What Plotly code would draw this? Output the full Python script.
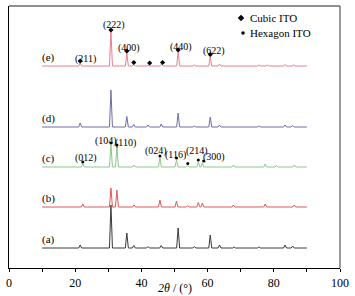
import plotly.graph_objects as go

# ---- data (intensity in arbitrary units, offsets per sample) ----
x_start, x_end = 10, 90

# sample (e) - cubic ITO
e_pos = [21.5, 30.8, 35.6, 37.7, 42.0, 46.0, 51.1, 56.0, 60.8, 63.6, 75.5, 78.0, 83.4, 86.0]
e_int = [3, 34, 13, 1.5, 1, 1.5, 14, 1, 9.5, 2, 1, 1, 1.5, 1]
# sample (d)
d_pos = [21.5, 30.8, 35.6, 37.7, 42.0, 46.0, 51.1, 56.0, 60.8, 63.6, 75.5, 83.4, 85.7]
d_int = [4, 37, 10.5, 2.5, 2, 3, 14, 1, 10, 2, 1, 2, 1.5]
# sample (c) - hexagonal ITO
c_pos = [22.3, 30.8, 32.6, 37.8, 45.6, 50.6, 54.0, 57.2, 58.4, 67.8, 77.4, 80.8, 86.2]
c_int = [3, 22, 20, 2, 9, 7, 1.5, 5, 4, 2, 3, 1.5, 2]
# sample (b)
b_pos = [22.3, 30.8, 32.6, 37.8, 45.6, 50.6, 54.0, 57.2, 58.4, 67.8, 77.4, 86.2]
b_int = [3, 19, 17, 2, 7, 6, 1.5, 4.5, 4, 2, 3, 2]
# sample (a)
a_pos = [21.5, 30.8, 35.6, 37.7, 42.0, 46.0, 51.1, 56.0, 60.8, 63.6, 68.0, 75.5, 83.4, 85.7]
a_int = [3, 43, 15, 2.5, 1.5, 2.5, 20, 1.5, 13, 3, 1, 1, 3, 2]

sample_names = ["(a)", "(b)", "(c)", "(d)", "(e)"]
offsets = [20, 61, 101, 141, 202]
colors = ["#3a3a3a", "#e05a5a", "#8cc88c", "#6e6ea8", "#e5808f"]

cubic_labels = ["(211)", "(222)", "(400)", "(440)", "(622)"]
cubic_label_x = [23.0, 31.7, 36.2, 52.0, 62.0]
cubic_label_y = [209, 243, 220, 221, 217]
cubic_marker_x = [21.5, 30.8, 35.6, 37.7, 42.5, 46.4, 51.1, 60.8]

hex_labels = ["(012)", "(104)", "(110)", "(024)", "(116)", "(214)", "(300)"]
hex_label_x = [23.3, 29.2, 35.2, 44.4, 50.2, 56.7, 61.8]
hex_label_y = [110, 127, 125.5, 117, 113, 117, 111]
hex_marker_x = [22.3, 30.8, 32.6, 45.6, 50.6, 54.0, 57.2, 58.8]

half_w = 0.45


def build_curve(pos, inten, base):
    xs = [x_start]
    ys = [base]
    for p, h in sorted(zip(pos, inten)):
        xs += [p - half_w, p, p + half_w]
        ys += [base, base + h, base]
    xs.append(x_end)
    ys.append(base)
    return xs, ys


def top_at(pos, inten, base, x):
    best = min(range(len(pos)), key=lambda i: abs(pos[i] - x))
    if abs(pos[best] - x) < 0.8:
        return base + inten[best]
    return base


fig = go.Figure()
all_pos = [a_pos, b_pos, c_pos, d_pos, e_pos]
all_int = [a_int, b_int, c_int, d_int, e_int]
for name, pos, inten, base, col in zip(sample_names, all_pos, all_int, offsets, colors):
    xs, ys = build_curve(pos, inten, base)
    fig.add_trace(go.Scatter(x=xs, y=ys, mode="lines", line=dict(color=col, width=1),
                             showlegend=False, hoverinfo="skip"))

# markers on (e) for cubic and (c) for hexagonal
cm_y = [top_at(e_pos, e_int, offsets[4], x) + 2 for x in cubic_marker_x]
fig.add_trace(go.Scatter(x=cubic_marker_x, y=cm_y, mode="markers",
                         marker=dict(symbol="diamond", size=4, color="black"),
                         showlegend=False, hoverinfo="skip"))
hm_y = [top_at(c_pos, c_int, offsets[2], x) + 2 for x in hex_marker_x]
fig.add_trace(go.Scatter(x=hex_marker_x, y=hm_y, mode="markers",
                         marker=dict(symbol="circle", size=3, color="black"),
                         showlegend=False, hoverinfo="skip"))

# legend symbols
fig.add_trace(go.Scatter(x=[70.1], y=[250], mode="markers",
                         marker=dict(symbol="diamond", size=5, color="black"),
                         showlegend=False, hoverinfo="skip"))
fig.add_trace(go.Scatter(x=[70.7], y=[235], mode="markers",
                         marker=dict(symbol="circle", size=3.5, color="black"),
                         showlegend=False, hoverinfo="skip"))

serif = "Liberation Serif"
ann = []
for t, x, y in zip(cubic_labels, cubic_label_x, cubic_label_y):
    ann.append(dict(x=x, y=y, text=t, showarrow=False, font=dict(family=serif, size=10, color="black")))
for t, x, y in zip(hex_labels, hex_label_x, hex_label_y):
    ann.append(dict(x=x, y=y, text=t, showarrow=False, font=dict(family=serif, size=10, color="black")))
for name, base in zip(sample_names, offsets):
    ann.append(dict(x=11.8, y=base + 9, text=name, showarrow=False,
                    font=dict(family=serif, size=11, color="black")))
ann.append(dict(x=72.2, y=250, text="Cubic ITO", xanchor="left", showarrow=False,
                font=dict(family=serif, size=11, color="black")))
ann.append(dict(x=72.2, y=235, text="Hexagon ITO", xanchor="left", showarrow=False,
                font=dict(family=serif, size=11, color="black")))
ann.append(dict(x=0.5, y=-0.042, xref="paper", yref="paper", yanchor="top",
                text="<i>2θ</i> / (°)", showarrow=False,
                font=dict(family=serif, size=12, color="black")))

fig.update_layout(
    width=355, height=296,
    margin=dict(l=8, r=13, t=6, b=28),
    paper_bgcolor="white", plot_bgcolor="white",
    annotations=ann,
    shapes=[dict(type="line", xref="paper", yref="paper", x0=0, x1=1, y0=1, y1=1,
                 line=dict(color="#222", width=1.2)),
            dict(type="line", xref="paper", yref="paper", x0=1, x1=1, y0=0, y1=1,
                 line=dict(color="#555", width=1.2))],
)
fig.update_xaxes(range=[0, 100], showgrid=False, zeroline=False,
                 showline=True, linecolor="black", linewidth=1.2,
                 ticks="outside", ticklen=3, tickcolor="black",
                 tickvals=list(range(0, 101, 10)),
                 ticktext=[str(v) if v % 20 == 0 else "" for v in range(0, 101, 10)],
                 tickfont=dict(family=serif, size=12, color="black"))
fig.update_yaxes(range=[0, 262], showgrid=False, zeroline=False,
                 showline=True, linecolor="black", linewidth=1.2,
                 showticklabels=False, ticks="")

fig.write_html("out.html", config={"displayModeBar": False},
               post_script="document.body.style.margin='0';")
